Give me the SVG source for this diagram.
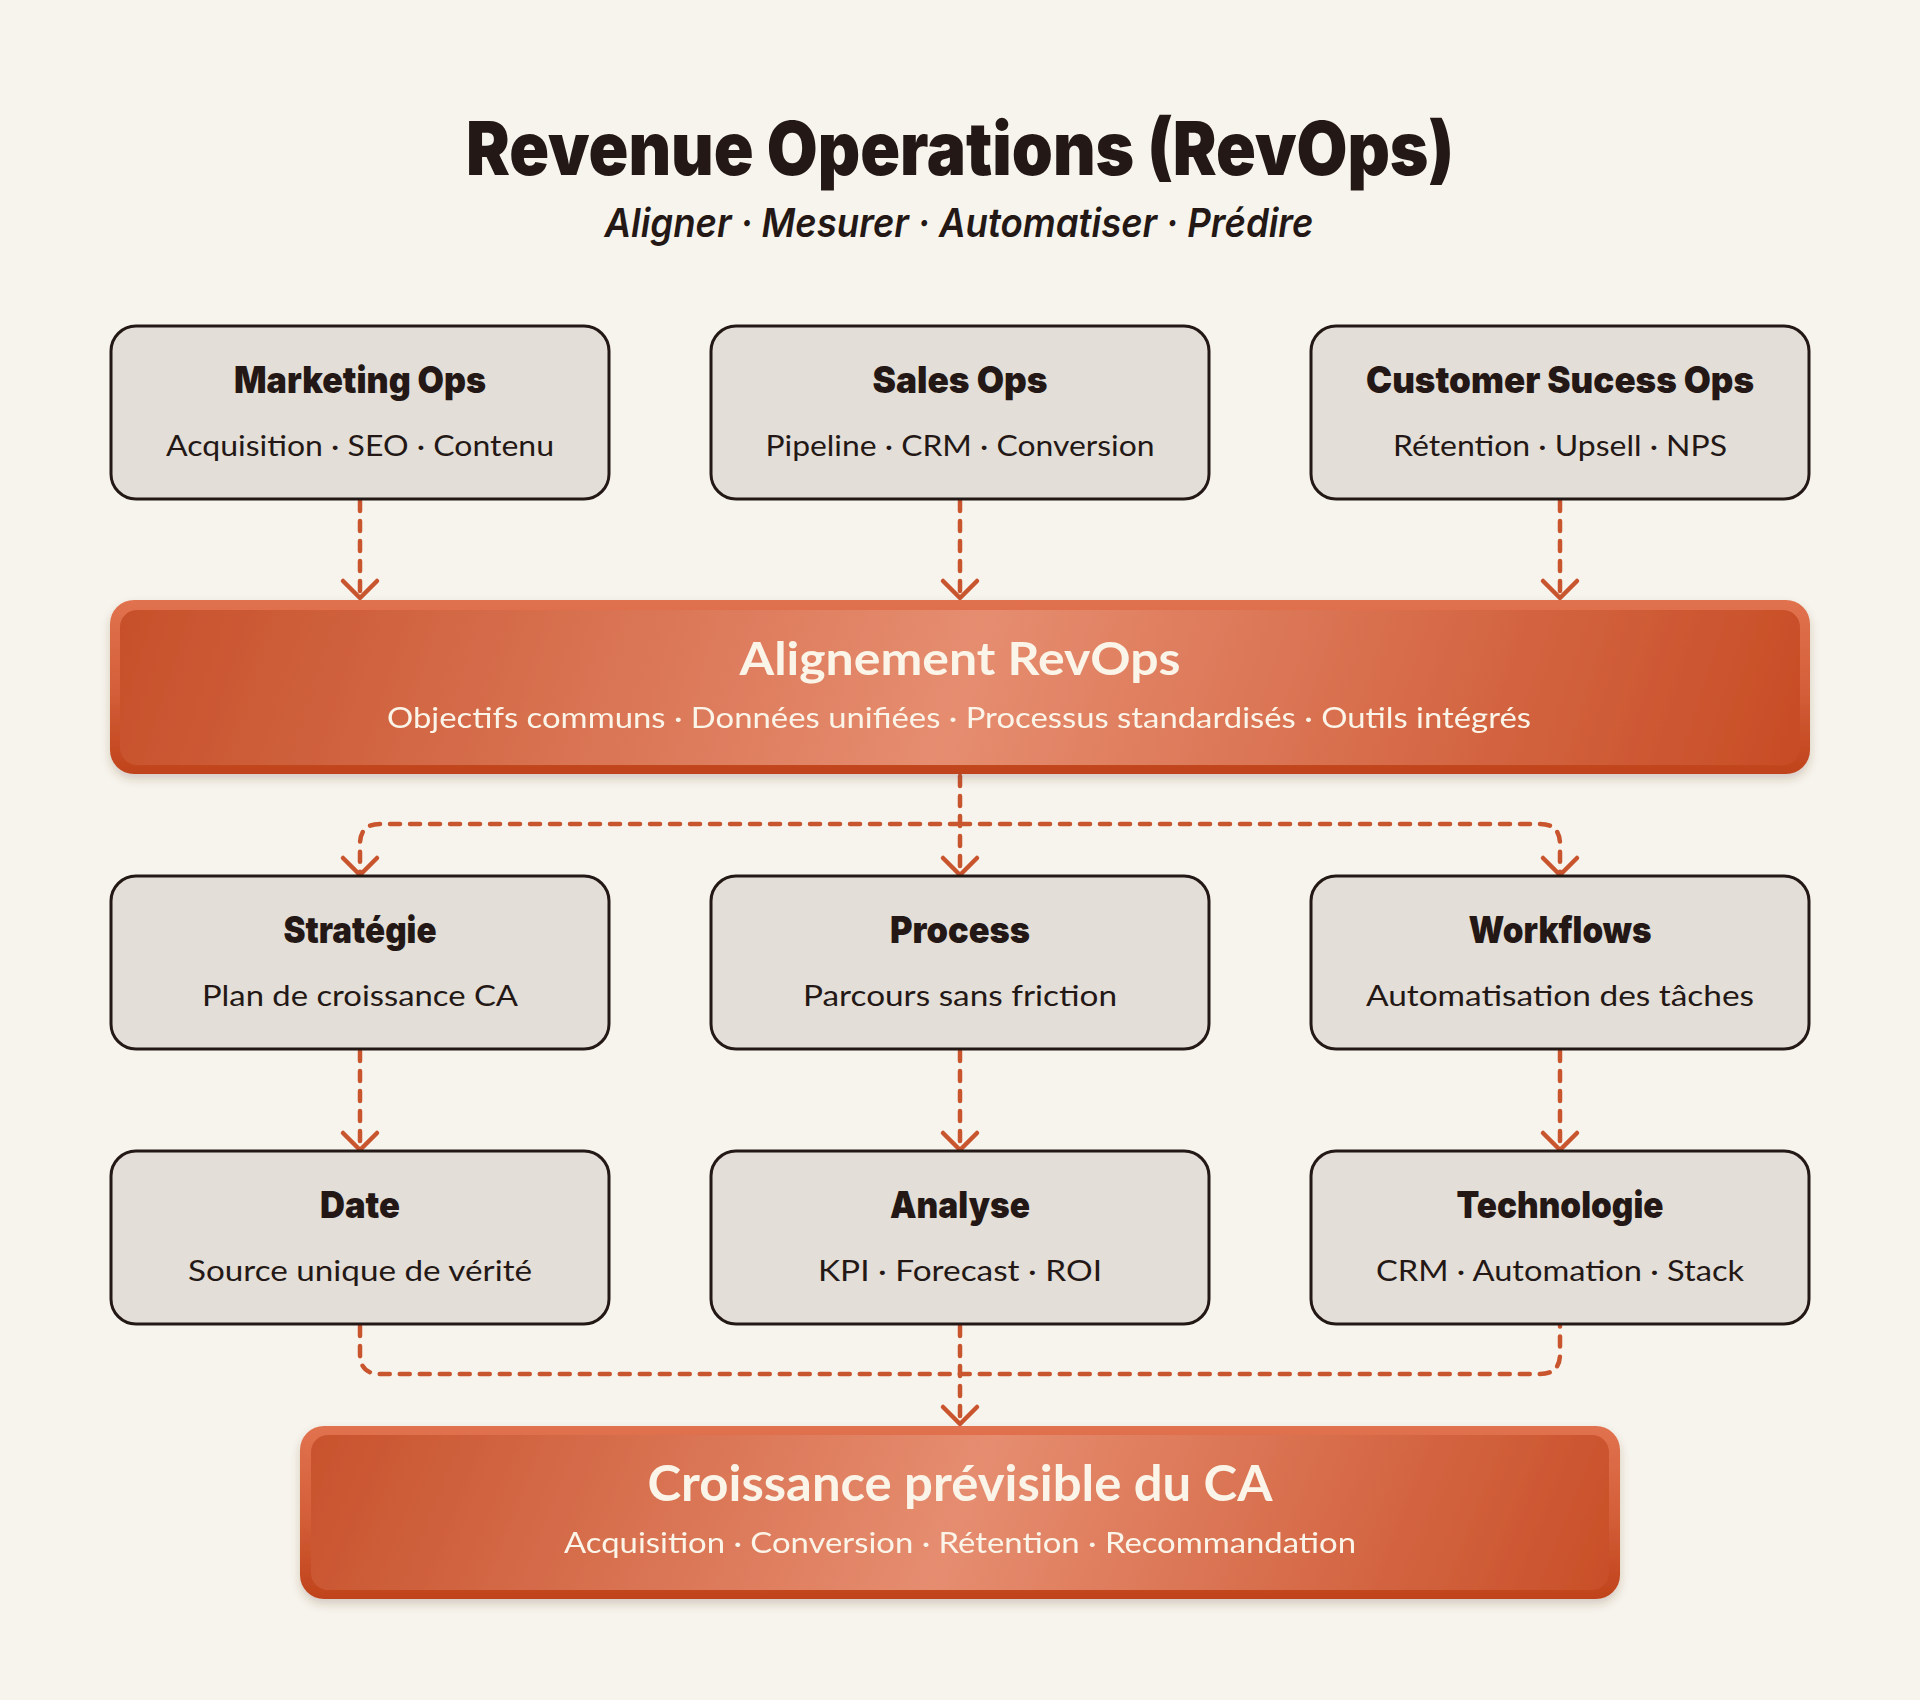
<svg xmlns="http://www.w3.org/2000/svg" width="1920" height="1700" viewBox="0 0 1920 1700">
<defs>
<style>
.bg{fill:#F6F4EC}
.box{fill:#E3DED7;stroke:#231815;stroke-width:3}
.t{font-family:Inter,"Liberation Sans",sans-serif;font-weight:900;font-size:37px;fill:#231815;text-anchor:middle}
.s{font-family:Lato,"Noto Sans",sans-serif;font-weight:400;font-size:29px;fill:#231815;text-anchor:middle}
.ot{font-family:Lato,"Noto Sans",sans-serif;font-weight:700;fill:#FBF4E8;text-anchor:middle}
.os{font-family:Lato,"Noto Sans",sans-serif;font-weight:400;fill:#FBF4E8;text-anchor:middle}
.conn{fill:none;stroke:#C9552F;stroke-width:4.5;stroke-dasharray:10 10;stroke-linecap:round;marker-end:url(#arr)}
.line{fill:none;stroke:#C9552F;stroke-width:4.5;stroke-dasharray:10 10;stroke-linecap:round}
</style>
<marker id="arr" markerUnits="userSpaceOnUse" viewBox="-22 -22 44 44" markerWidth="44" markerHeight="44" refX="0" refY="0" orient="auto">
<path d="M-17,-17 L0,0 L-17,17" fill="none" stroke="#C9552F" stroke-width="4.5" stroke-linecap="round" stroke-linejoin="round"/>
</marker>
<linearGradient id="rim" x1="0" y1="0" x2="0" y2="1">
<stop offset="0" stop-color="#E1724F"/>
<stop offset="0.5" stop-color="#D4603A"/>
<stop offset="1" stop-color="#C0431B"/>
</linearGradient>
<linearGradient id="g1" gradientUnits="userSpaceOnUse" x1="110" y1="420" x2="1810" y2="954">
<stop offset="0" stop-color="#C44B24"/>
<stop offset="0.5" stop-color="#E68D70"/>
<stop offset="1" stop-color="#C5471F"/>
</linearGradient>
<linearGradient id="g2" gradientUnits="userSpaceOnUse" x1="300" y1="1250" x2="1620" y2="1775">
<stop offset="0" stop-color="#C44B24"/>
<stop offset="0.5" stop-color="#E68D70"/>
<stop offset="1" stop-color="#C5471F"/>
</linearGradient>
<filter id="sh" x="-5%" y="-20%" width="110%" height="150%">
<feDropShadow dx="0" dy="5" stdDeviation="5" flood-color="#5A3020" flood-opacity="0.22"/>
</filter>
</defs>
<rect class="bg" x="0" y="0" width="1920" height="1700"/>

<g id="title">
<text x="960" y="175" font-family="Inter,'Liberation Sans',sans-serif" font-weight="900" font-size="74" fill="#231815" text-anchor="middle" textLength="988" lengthAdjust="spacingAndGlyphs">Revenue Operations (RevOps)</text>
<text x="959" y="237" font-family="Inter,'Liberation Sans',sans-serif" font-weight="600" font-style="italic" font-size="40" fill="#231815" text-anchor="middle" textLength="709" lengthAdjust="spacingAndGlyphs">Aligner · Mesurer · Automatiser · Prédire</text>
</g>

<g id="connectors">
<path class="conn" d="M360,501 V598"/>
<path class="conn" d="M960,501 V598"/>
<path class="conn" d="M1560,501 V598"/>
<path class="conn" d="M960,776 V875"/>
<path class="conn" d="M960,824 H380 Q360,824 360,844 V875"/>
<path class="conn" d="M960,824 H1540 Q1560,824 1560,844 V875"/>
<path class="conn" d="M360,1051 V1150"/>
<path class="conn" d="M960,1051 V1150"/>
<path class="conn" d="M1560,1051 V1150"/>
<path class="line" d="M360,1326 V1354 Q360,1374 380,1374 H1540 Q1560,1374 1560,1354 V1326"/>
<path class="conn" d="M960,1326 V1424"/>
</g>

<g id="marketing-ops">
<rect class="box" x="111" y="326" width="498" height="173" rx="25"/>
<text class="t" x="360" y="393" textLength="252" lengthAdjust="spacingAndGlyphs">Marketing Ops</text>
<text class="s" x="360" y="456" textLength="388" lengthAdjust="spacingAndGlyphs">Acquisition · SEO · Contenu</text>
</g>
<g id="sales-ops">
<rect class="box" x="711" y="326" width="498" height="173" rx="25"/>
<text class="t" x="960" y="393" textLength="175" lengthAdjust="spacingAndGlyphs">Sales Ops</text>
<text class="s" x="960" y="456" textLength="389" lengthAdjust="spacingAndGlyphs">Pipeline · CRM · Conversion</text>
</g>
<g id="customer-success-ops">
<rect class="box" x="1311" y="326" width="498" height="173" rx="25"/>
<text class="t" x="1560" y="393" textLength="388" lengthAdjust="spacingAndGlyphs">Customer Sucess Ops</text>
<text class="s" x="1560" y="456" textLength="334" lengthAdjust="spacingAndGlyphs">Rétention · Upsell · NPS</text>
</g>

<g id="alignement" filter="url(#sh)">
<rect x="110" y="600" width="1700" height="174" rx="24" fill="url(#rim)"/>
<rect x="120" y="610" width="1680" height="155" rx="17" fill="url(#g1)"/>
<text class="ot" x="960" y="675" font-size="46" textLength="441" lengthAdjust="spacingAndGlyphs">Alignement RevOps</text>
<text class="os" x="959" y="728" font-size="29" textLength="1144" lengthAdjust="spacingAndGlyphs">Objectifs communs · Données unifiées · Processus standardisés · Outils intégrés</text>
</g>

<g id="strategie">
<rect class="box" x="111" y="876" width="498" height="173" rx="25"/>
<text class="t" x="360" y="943" textLength="153" lengthAdjust="spacingAndGlyphs">Stratégie</text>
<text class="s" x="360" y="1006" textLength="316" lengthAdjust="spacingAndGlyphs">Plan de croissance CA</text>
</g>
<g id="process">
<rect class="box" x="711" y="876" width="498" height="173" rx="25"/>
<text class="t" x="960" y="943" textLength="140" lengthAdjust="spacingAndGlyphs">Process</text>
<text class="s" x="960" y="1006" textLength="314" lengthAdjust="spacingAndGlyphs">Parcours sans friction</text>
</g>
<g id="workflows">
<rect class="box" x="1311" y="876" width="498" height="173" rx="25"/>
<text class="t" x="1560" y="943" textLength="183" lengthAdjust="spacingAndGlyphs">Workflows</text>
<text class="s" x="1560" y="1006" textLength="388" lengthAdjust="spacingAndGlyphs">Automatisation des tâches</text>
</g>

<g id="date">
<rect class="box" x="111" y="1151" width="498" height="173" rx="25"/>
<text class="t" x="360" y="1218" textLength="80" lengthAdjust="spacingAndGlyphs">Date</text>
<text class="s" x="360" y="1281" textLength="344" lengthAdjust="spacingAndGlyphs">Source unique de vérité</text>
</g>
<g id="analyse">
<rect class="box" x="711" y="1151" width="498" height="173" rx="25"/>
<text class="t" x="960" y="1218" textLength="140" lengthAdjust="spacingAndGlyphs">Analyse</text>
<text class="s" x="960" y="1281" textLength="284" lengthAdjust="spacingAndGlyphs">KPI · Forecast · ROI</text>
</g>
<g id="technologie">
<rect class="box" x="1311" y="1151" width="498" height="173" rx="25"/>
<text class="t" x="1560" y="1218" textLength="207" lengthAdjust="spacingAndGlyphs">Technologie</text>
<text class="s" x="1560" y="1281" textLength="368" lengthAdjust="spacingAndGlyphs">CRM · Automation · Stack</text>
</g>

<g id="croissance" filter="url(#sh)">
<rect x="300" y="1426" width="1320" height="173" rx="24" fill="url(#rim)"/>
<rect x="311" y="1435" width="1298" height="155" rx="17" fill="url(#g2)"/>
<text class="ot" x="960" y="1501" font-size="50" textLength="625" lengthAdjust="spacingAndGlyphs">Croissance prévisible du CA</text>
<text class="os" x="960" y="1553" font-size="28" textLength="792" lengthAdjust="spacingAndGlyphs">Acquisition · Conversion · Rétention · Recommandation</text>
</g>
</svg>
